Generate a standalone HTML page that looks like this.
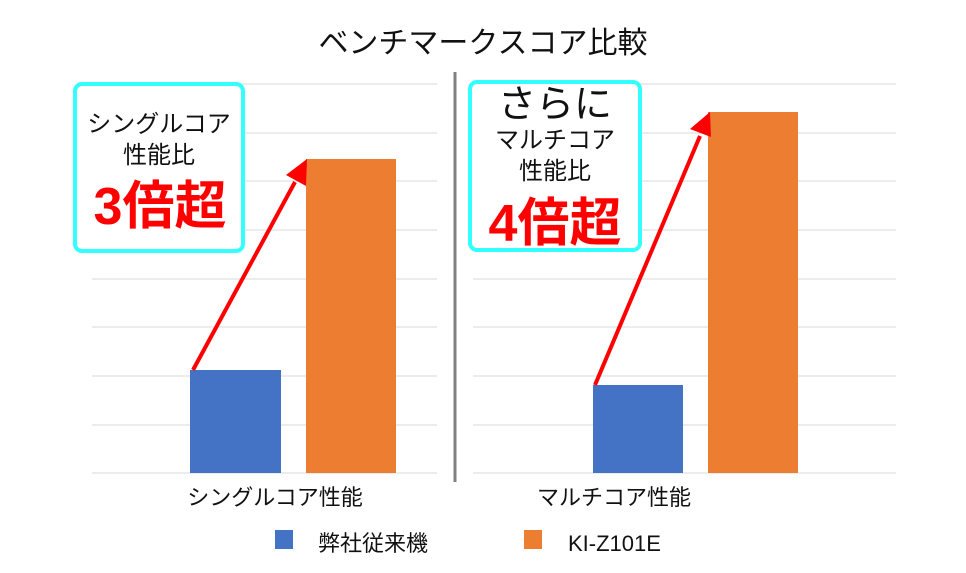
<!DOCTYPE html>
<html><head><meta charset="utf-8"><style>
body{margin:0;background:#fff;}
svg text{font-family:"Liberation Sans","Noto Sans CJK JP",sans-serif;}
</style></head><body>
<svg width="966" height="568" viewBox="0 0 966 568" xmlns="http://www.w3.org/2000/svg">
<rect width="966" height="568" fill="#fff"/>
<text x="483" y="53" font-size="30" text-anchor="middle" fill="#111">ベンチマークスコア比較</text>
<g stroke="#d9d9d9" stroke-width="1">
<line x1="92" y1="84" x2="437" y2="84"/><line x1="92" y1="133" x2="437" y2="133"/><line x1="92" y1="181" x2="437" y2="181"/><line x1="92" y1="230" x2="437" y2="230"/><line x1="92" y1="279" x2="437" y2="279"/><line x1="92" y1="327" x2="437" y2="327"/><line x1="92" y1="376" x2="437" y2="376"/><line x1="92" y1="425" x2="437" y2="425"/><line x1="92" y1="473" x2="437" y2="473"/>
<line x1="473" y1="84" x2="896" y2="84"/><line x1="473" y1="133" x2="896" y2="133"/><line x1="473" y1="181" x2="896" y2="181"/><line x1="473" y1="230" x2="896" y2="230"/><line x1="473" y1="279" x2="896" y2="279"/><line x1="473" y1="327" x2="896" y2="327"/><line x1="473" y1="376" x2="896" y2="376"/><line x1="473" y1="425" x2="896" y2="425"/><line x1="473" y1="473" x2="896" y2="473"/>
</g>
<line x1="455" y1="72" x2="455" y2="482" stroke="#808080" stroke-width="3"/>
<rect x="190" y="370" width="91" height="103" fill="#4472c4"/>
<rect x="306" y="159" width="90" height="314" fill="#ed7d31"/>
<rect x="593" y="385" width="90" height="88" fill="#4472c4"/>
<rect x="708" y="112" width="90" height="361" fill="#ed7d31"/>
<line x1="193" y1="370" x2="295" y2="182" stroke="#ff0000" stroke-width="4"/>
<polygon points="307,159 286,175 306,186" fill="#ff0000"/>
<line x1="595" y1="385" x2="700" y2="136" stroke="#ff0000" stroke-width="4"/>
<polygon points="710,112 690,129 711,137" fill="#ff0000"/>
<rect x="75" y="84" width="168" height="167" rx="7" fill="#fff" stroke="#33ffff" stroke-width="4"/>
<text x="159" y="132" font-size="24" text-anchor="middle" fill="#111">シングルコア</text>
<text x="159" y="163" font-size="24" text-anchor="middle" fill="#111">性能比</text>
<text x="160" y="224" font-size="52" font-weight="bold" text-anchor="middle" fill="#ff0000">3倍超</text>
<rect x="470" y="82" width="170" height="168" rx="7" fill="#fff" stroke="#33ffff" stroke-width="4"/>
<text x="555" y="117" font-size="38" text-anchor="middle" fill="#111">さらに</text>
<text x="555" y="148" font-size="24" text-anchor="middle" fill="#111">マルチコア</text>
<text x="555" y="179" font-size="24" text-anchor="middle" fill="#111">性能比</text>
<text x="555" y="241" font-size="52" font-weight="bold" text-anchor="middle" fill="#ff0000">4倍超</text>
<text x="275" y="505" font-size="22" text-anchor="middle" fill="#111">シングルコア性能</text>
<text x="614" y="505" font-size="22" text-anchor="middle" fill="#111">マルチコア性能</text>
<rect x="275" y="530" width="18" height="19" fill="#4472c4"/>
<text x="318" y="551" font-size="22" fill="#111">弊社従来機</text>
<rect x="524" y="530" width="18" height="19" fill="#ed7d31"/>
<text x="568" y="551" font-size="22" fill="#111">KI-Z101E</text>
</svg>
</body></html>
